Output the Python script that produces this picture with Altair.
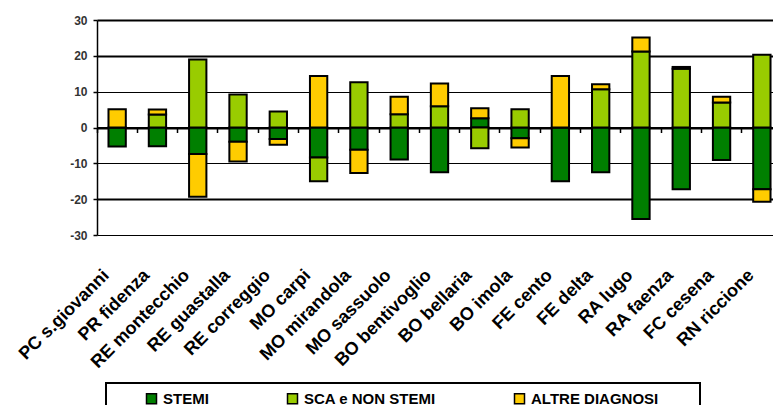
import altair as alt
import pandas as pd

# Reparti (one stacked column each)
categories = [
    "PC s.giovanni", "PR fidenza", "RE montecchio", "RE guastalla",
    "RE correggio", "MO carpi", "MO mirandola", "MO sassuolo",
    "BO bentivoglio", "BO bellaria", "BO imola", "FE cento",
    "FE delta", "RA lugo", "RA faenza", "FC cesena", "RN riccione",
]

series = ["STEMI", "SCA e NON STEMI", "ALTRE DIAGNOSI"]
colors = ["#007F00", "#99CC00", "#FFCC00"]

stemi = [-5.3, -5.2, -7.4, -4.0, -3.2, -8.4, -6.2, -8.9, -12.5,
         2.6, -3.0, -15.0, -12.5, -25.5, -17.2, -9.1, -17.2]
sca = [0.0, 3.6, 19.0, 9.2, 4.5, -6.6, 12.6, 3.7, 5.9,
       -5.8, 5.1, 0.0, 10.7, 21.2, 16.4, 7.0, 20.3]
altre = [5.1, 1.4, -11.9, -5.5, -1.6, 14.4, -6.5, 4.9, 6.4,
         2.8, -2.6, 14.4, 1.4, 3.9, 0.5, 1.6, -3.5]

y_ticks = [-30, -20, -10, 0, 10, 20, 30]

rows = []
for i, cat in enumerate(categories):
    for k, (name, vals) in enumerate(zip(series, [stemi, sca, altre])):
        rows.append({"reparto": cat, "serie": name, "ordine": k, "valore": vals[i]})
df = pd.DataFrame(rows)

FONT = "Liberation Sans"
PLOT_W = 676
PLOT_H = 215
# blank (non-whitespace) glyphs used to widen the legend frame on the right
BLANK = "\u2800"

x_scale = alt.Scale(domain=categories, range=[0, 685], paddingInner=0, paddingOuter=0)
y_scale = alt.Scale(domain=[-30, 30], nice=False)

bars = alt.Chart(df).mark_bar(
    width={"band": 0.43}, stroke="black", strokeWidth=2
).encode(
    x=alt.X(
        "reparto:N", scale=x_scale, sort=None,
        axis=alt.Axis(
            title=None, orient="bottom", labelAngle=-45, labelAlign="right",
            labelBaseline="top", labelFont=FONT, labelFontSize=18,
            labelFontWeight="bold", labelColor="black", labelPadding=31,
            labelOffset=-17, labelOverlap=False, labelLimit=300,
            ticks=False, domain=False, grid=False,
        ),
    ),
    y=alt.Y(
        "valore:Q", stack="zero", scale=y_scale,
        axis=alt.Axis(
            title=None, values=y_ticks, labelExpr="'' + datum.value",
            labelFont=FONT, labelFontSize=12,
            labelFontWeight="bold", labelColor="#333333", labelPadding=6,
            tickSize=4, tickColor="black", tickWidth=1.5,
            domainColor="black", domainWidth=1.5,
            grid=True, gridColor="black", gridOpacity=1,
            gridWidth=alt.condition(
                "datum.value == 10 || datum.value == -10 || datum.value == -30",
                alt.value(1.2), alt.value(2.2),
            ),
        ),
    ),
    color=alt.Color(
        "serie:N",
        scale=alt.Scale(domain=series, range=colors),
        legend=alt.Legend(
            title="\u00a0", titleOrient="left", titlePadding=30, titleFontSize=10,
            orient="none", legendX=9, legendY=363, direction="horizontal",
            symbolType="square", symbolSize=100, symbolStrokeColor="black",
            symbolStrokeWidth=1.5, symbolOpacity=1,
            labelFont=FONT, labelFontSize=15, labelFontWeight="bold",
            labelColor="black", labelOffset=4, labelLimit=400,
            labelExpr="datum.label == 'ALTRE DIAGNOSI' ? datum.label + '"
            + BLANK * 3 + "' : datum.label",
            columnPadding=75, padding=8, strokeColor="black",
        ),
    ),
    order=alt.Order("ordine:Q"),
)

# Category axis drawn along the zero line, with tick marks between columns
zero_axis = alt.Chart(df).mark_bar(opacity=0).encode(
    x=alt.X(
        "reparto:N", scale=x_scale, sort=None,
        axis=alt.Axis(
            title=None, orient="bottom", offset=-PLOT_H / 2, labels=False,
            ticks=True, tickSize=5, tickWidth=1.5, tickColor="black",
            bandPosition=0, domain=True, domainColor="black", domainWidth=2,
            grid=False,
        ),
    ),
)

chart = (
    alt.layer(bars, zero_axis)
    .resolve_axis(x="independent")
    .properties(
        width=PLOT_W, height=PLOT_H,
        autosize=alt.AutoSizeParams(type="none"),
        padding={"left": 97, "top": 20, "right": 0, "bottom": 170},
        background="white",
    )
    .configure_view(stroke=None)
    .configure_legend(strokeWidth=2)
)

chart.save("out.html", embed_options={"renderer": "svg", "actions": False})
